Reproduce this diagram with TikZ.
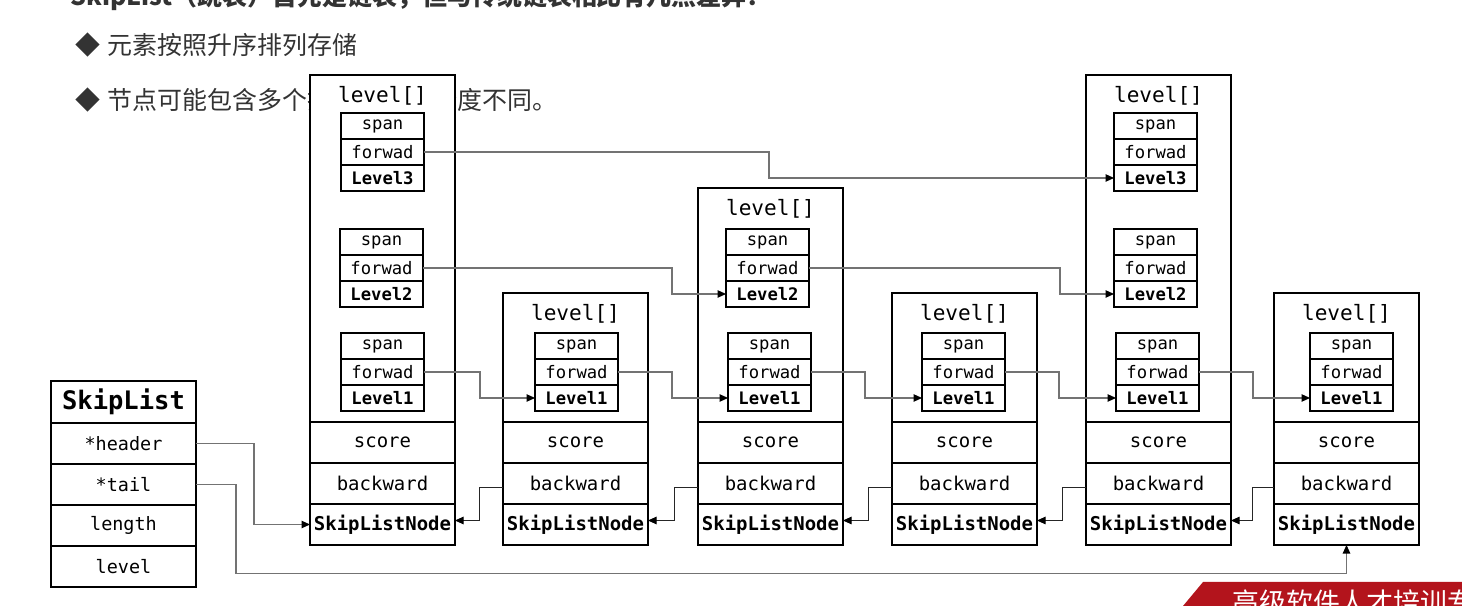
\documentclass[tikz,border=0pt]{standalone}
\usepackage{fontspec}
\setmonofont{DejaVu Sans Mono}
\newfontfamily\cjk{Noto Sans CJK SC}
\usetikzlibrary{calc,arrows.meta}
\definecolor{slidetext}{HTML}{333333}
\definecolor{bannerred}{HTML}{B3141C}
\tikzset{
  cell/.style={draw, line width=1.1pt, fill=white, outer sep=0pt, inner sep=0pt,
    minimum width=16.6mm, minimum height=5.2mm, font=\ttfamily\fontsize{9.8}{10}\selectfont},
  row/.style={draw, line width=1.3pt, fill=white, outer sep=0pt, inner sep=0pt,
    minimum width=29mm, minimum height=8.2mm, font=\ttfamily\fontsize{10.8}{12}\selectfont},
  lvlarea/.style={draw, line width=1.3pt, fill=white, outer sep=0pt, inner sep=0pt, minimum width=29mm},
  link/.style={draw=black!55, line width=0.6pt, -{Triangle[length=1.7mm,width=1.5mm,color=black]}},
  backlink/.style={draw=black!85, line width=0.5pt, -{Triangle[length=1.7mm,width=1.5mm,color=black]}},
  slide/.style={text=slidetext, font=\cjk\fontsize{14.2}{16}\selectfont, inner sep=0pt, anchor=west}
}
\def\levelbox[#1](#2,#3)(#4){%
  \node[cell, anchor=north west] (#1s) at (#2,#3) {span};
  \node[cell, anchor=north] (#1f) at (#1s.south) {forwad};
  \node[cell, anchor=north, font=\ttfamily\bfseries\fontsize{9.8}{10}\selectfont] (#1l) at (#1f.south) {Level#4};
}
\def\skipnode[#1](#2,#3){%
  \node[lvlarea, minimum height={(422-#3)*0.2mm}, anchor=north west] (#1lv) at (#2,#3) {};
  \node[anchor=north, inner sep=0pt, font=\ttfamily\fontsize{12}{14}\selectfont] (#1lt) at ($(#1lv.north)+(0,11)$) {level[]};
  \node[row, anchor=north west] (#1sc) at (#2,422) {\raisebox{-0.4mm}{score}};
  \node[row, anchor=north] (#1bw) at (#1sc.south) {backward};
  \node[row, anchor=north, font=\ttfamily\bfseries\fontsize{10.8}{12}\selectfont] (#1nd) at (#1bw.south) {\raisebox{-0.4mm}{SkipListNode}};
}

\begin{document}
\begin{tikzpicture}[x=0.2mm, y=-0.2mm]
			%%%%% SLIDE %%%%%
			\clip (0,0) rectangle (1462,606);
			\fill[white] (0,0) rectangle (1462,606);
			
			\node[slide, font=\cjk\bfseries\fontsize{14.2}{16}\selectfont] (title) at (70,-3) {SkipList（跳表）首先是链表，但与传统链表相比有几点差异：};
			\node[slide] (bulleta) at (75,45) {◆\hspace{1.5mm}元素按照升序排列存储};
			\node[slide] (bulletb) at (75,100) {◆\hspace{1.5mm}节点可能包含多个指针，指针跨度不同。};
			
			\fill[bannerred] (1183,606) -- (1203,582) -- (1462,582) -- (1462,606) -- cycle;
			\node[slide, text=white, font=\cjk\fontsize{15.3}{17}\selectfont] (banner) at (1232,602) {高级软件人才培训专家};
			
			%%%%% SKIPLIST %%%%%
			\node[row, minimum height=8.4mm, anchor=north west, font=\ttfamily\bfseries\fontsize{14.5}{16}\selectfont] (sltitle) at (51,381) {SkipList};
			\node[row, anchor=north, font=\ttfamily\fontsize{10.5}{12}\selectfont] (slhead) at (sltitle.south) {*header};
			\node[row, anchor=north, font=\ttfamily\fontsize{10.5}{12}\selectfont] (sltail) at (slhead.south) {*tail};
			\node[row, anchor=north, font=\ttfamily\fontsize{10.5}{12}\selectfont] (sllen) at (sltail.south) {length};
			\node[row, anchor=north, font=\ttfamily\fontsize{10.5}{12}\selectfont] (sllevel) at (sllen.south) {level};
			
			%%%%% NODES %%%%%
			\skipnode[na](310,75)
			\levelbox[na3](341,113)(3)
			\levelbox[na2](340,229)(2)
			\levelbox[na1](341,333)(1)
			
			\skipnode[nb](503,293)
			\levelbox[nb1](535,333)(1)
			
			\skipnode[nc](698,188)
			\levelbox[nc2](726,229)(2)
			\levelbox[nc1](728,333)(1)
			
			\skipnode[nd](892,293)
			\levelbox[nd1](922,333)(1)
			
			\skipnode[ne](1086,75)
			\levelbox[ne3](1114,113)(3)
			\levelbox[ne2](1114,229)(2)
			\levelbox[ne1](1116,333)(1)
			
			\skipnode[nf](1274,293)
			\levelbox[nf1](1310,333)(1)
			
			%%%%% FORWARD %%%%%
			\draw[link] (na3f.east) -- ++(345,0) |- (ne3l.west);
			\draw[link] (na2f.east) -- ++(249,0) |- (nc2l.west);
			\draw[link] (na1f.east) -- ++(56,0) |- (nb1l.west);
			\draw[link] (nb1f.east) -- ++(54,0) |- (nc1l.west);
			\draw[link] (nc2f.east) -- ++(251,0) |- (ne2l.west);
			\draw[link] (nc1f.east) -- ++(54,0) |- (nd1l.west);
			\draw[link] (nd1f.east) -- ++(54,0) |- (ne1l.west);
			\draw[link] (ne1f.east) -- ++(54,0) |- (nf1l.west);
			
			%%%%% BACKWARD %%%%%
			\draw[backlink] ([yshift=-0.8mm]nbbw.west) -- ++(-24,0) |- ([yshift=0.8mm]nand.east);
			\draw[backlink] ([yshift=-0.8mm]ncbw.west) -- ++(-24,0) |- ([yshift=0.8mm]nbnd.east);
			\draw[backlink] ([yshift=-0.8mm]ndbw.west) -- ++(-24,0) |- ([yshift=0.8mm]ncnd.east);
			\draw[backlink] ([yshift=-0.8mm]nebw.west) -- ++(-24,0) |- ([yshift=0.8mm]ndnd.east);
			\draw[backlink] ([yshift=-0.8mm]nfbw.west) -- ++(-22,0) |- ([yshift=0.8mm]nend.east);
			
			%%%%% HEAD / TAIL %%%%%
			\draw[link] (slhead.east) -- ++(58,0) |- (nand.west);
			\draw[link] (sltail.east) -- ++(40,0) -- ++(0,89) -| (nfnd.south);
			
			%%%%% END %%%%%
\end{tikzpicture}
\end{document}
